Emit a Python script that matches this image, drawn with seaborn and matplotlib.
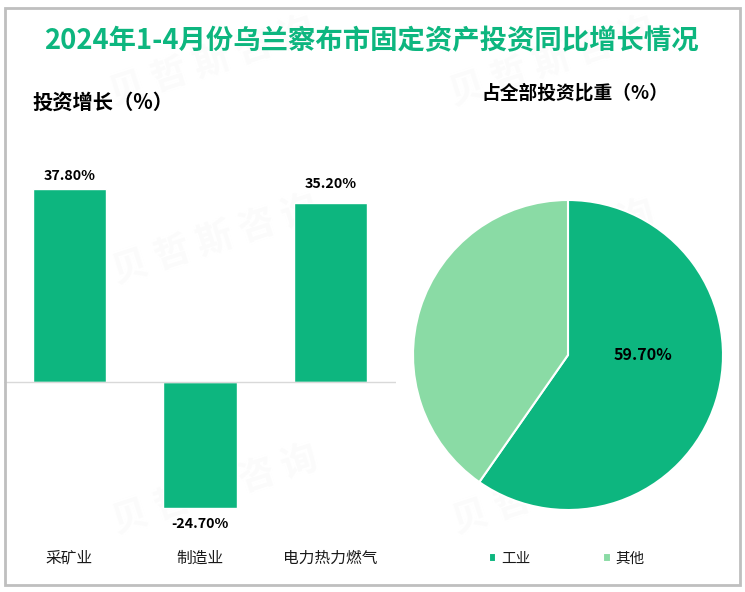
import matplotlib
matplotlib.use("Agg")
import matplotlib.pyplot as plt
import pandas as pd
import seaborn as sns
from matplotlib.patches import Rectangle

categories = ["采矿业", "制造业", "电力热力燃气"]
growth = [37.8, -24.7, 35.2]
growth_labels = ["37.80%", "-24.70%", "35.20%"]

pie_names = ["工业", "其他"]
pie_share = [59.7, 40.3]
pie_label = "59.70%"

watermark = "贝 哲 斯 咨 询"

GREEN = "#0DB67F"
LIGHT = "#8ADBA5"

sns.set_theme(style="white")
plt.rcParams["font.family"] = ["Noto Sans CJK SC", "DejaVu Sans"]
plt.rcParams["axes.unicode_minus"] = False

W, H = 745, 592


def box(left, top, right, bottom):
    # pixel box -> figure fractions
    return [left / W, 1 - bottom / H, (right - left) / W, (bottom - top) / H]


fig = plt.figure(figsize=(W / 100, H / 100), dpi=100)
fig.add_artist(Rectangle((5 / W, 1 - 585 / H), 735 / W, 577 / H, transform=fig.transFigure,
                         fill=False, edgecolor="#BFBFBF", linewidth=2))

# faint watermarks behind everything
for x, y in [(215, 240), (552, 245), (215, 490), (555, 490), (212, 62), (552, 62)]:
    fig.text(x / W, 1 - y / H, watermark, ha="center", va="center", fontsize=26, fontweight="bold",
             rotation=18, color="#FBFBFB", zorder=-5)

# bars
ax = fig.add_axes(box(4, 120, 396, 540))
df = pd.DataFrame({"cat": categories, "val": growth})
sns.barplot(data=df, x="cat", y="val", color=GREEN, saturation=1, width=0.56, ax=ax)
ax.set_ylim(-31.0, 51.4)
ax.axhline(0, color="#D9D9D9", linewidth=1)
ax.set_xlabel("")
ax.set_ylabel("")
ax.set_xticks([])
ax.set_yticks([])
sns.despine(ax=ax, left=True, bottom=True)
ax.patch.set_alpha(0)
for i, (v, s, off) in enumerate(zip(growth, growth_labels, [6, 11, 12])):
    ax.annotate(s, (i, v), xytext=(0, off if v > 0 else -9), textcoords="offset pixels", ha="center",
                va="bottom" if v > 0 else "top", fontsize=10.3, fontweight="bold", color="black")
# category labels sit at the bottom, under the plot
for i, c in enumerate(categories):
    ax.annotate(c, (i, 0), xycoords=("data", "figure pixels"), xytext=(0, H - 558),
                textcoords=("offset pixels", "figure pixels"), ha="center", va="center",
                fontsize=11.3, color="#1a1a1a")

# pie
ax2 = fig.add_axes(box(413, 200, 723, 510))
wedges, _ = ax2.pie(pie_share, colors=[GREEN, LIGHT], startangle=90, counterclock=False, radius=1,
                    wedgeprops={"edgecolor": "white", "linewidth": 1.5})
ax2.set_xlim(-1, 1)
ax2.set_ylim(-1, 1)
ax2.text(0.484, 0, pie_label, ha="center", va="center", fontsize=11.6, fontweight="bold", color="black")

# legend
fig.legend(wedges, pie_names, loc="center", bbox_to_anchor=(567 / W, 1 - 559 / H), ncol=2, frameon=False,
           fontsize=10.5, handlelength=0.5, handleheight=0.6, handletextpad=0.35, columnspacing=5.0,
           labelcolor="#1a1a1a")

fig.text(371 / W, 1 - 41 / H, "2024年1-4月份乌兰察布市固定资产投资同比增长情况", ha="center", va="center",
         fontsize=19.7, fontweight="bold", color=GREEN)
fig.text(103 / W, 1 - 102 / H, "投资增长（%）", ha="center", va="center", fontsize=14.6, fontweight="bold", color="black")
fig.text(575 / W, 1 - 93 / H, "占全部投资比重（%）", ha="center", va="center", fontsize=13.5, fontweight="bold", color="black")

fig.savefig("out.png", dpi=100)
